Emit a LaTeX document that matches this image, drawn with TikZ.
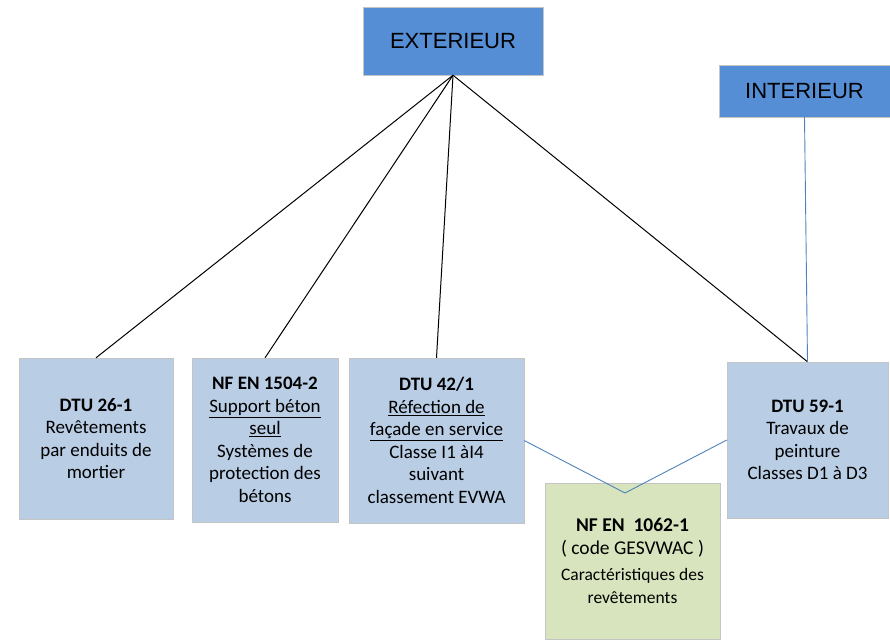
\documentclass[tikz,border=0pt]{standalone}
\usepackage{fontspec}
\setmainfont{Carlito}
\newfontfamily\arialfont{Liberation Sans}
\usetikzlibrary{arrows}

\definecolor{darkblue}{HTML}{558ED5}
\definecolor{paleblue}{HTML}{B9CDE5}
\definecolor{palegreen}{HTML}{D7E4BD}
\definecolor{edgegray}{HTML}{C4C4C4}
\definecolor{linkblue}{HTML}{4F81BD}

\begin{document}
\begin{tikzpicture}[x=1pt,y=-1pt,auto,
                    title node/.style={rectangle,draw=edgegray,fill=darkblue,inner sep=0pt,
                      font=\arialfont\fontsize{22}{26}\selectfont},
                    norm node/.style={rectangle,draw=edgegray,fill=paleblue,inner sep=0pt,
                      align=center,font=\fontsize{19}{22.5}\selectfont},
                    code node/.style={norm node,fill=palegreen,font=\fontsize{19.5}{23}\selectfont}]
  \useasboundingbox (0,0) rectangle (890,639);
  \node[title node,minimum width=180pt,minimum height=68pt] (ext) at (453,41) {EXTERIEUR};
  \node[title node,minimum width=171pt,minimum height=52pt] (int) at (804.5,91) {INTERIEUR};
  \node[norm node,minimum width=154pt,minimum height=161pt] (dtu26) at (96,438.5)
    {\textbf{DTU 26-1}\\Revêtements\\par enduits de\\mortier};
  \node[norm node,minimum width=146pt,minimum height=164pt] (nf1504) at (265,440)
    {\textbf{NF EN 1504-2}\\\underline{Support béton}\\\underline{seul}\\Systèmes de\\protection des\\bétons};
  \node[norm node,minimum width=175pt,minimum height=165pt] (dtu42) at (436.5,440.5)
    {\textbf{DTU 42/1}\\\underline{Réfection de}\\\underline{façade en service}\\Classe I1 àI4\\suivant\\classement EVWA};
  \node[norm node,minimum width=161pt,minimum height=156pt] (dtu59) at (807.5,440)
    {\textbf{DTU 59-1}\\Travaux de\\peinture\\Classes D1 à D3};
  \node[code node,minimum width=175pt,minimum height=156pt] (nf1062) at (632.5,561)
    {\textbf{NF EN\ \ 1062-1}\\( code GESVWAC )\\[3pt]{\fontsize{17.5}{22}\selectfont Caractéristiques des}\\{\fontsize{17.5}{22}\selectfont revêtements}};
  \coordinate (joint) at (625,493);
  \path[draw=black,line width=1pt]
    (ext.south) edge (dtu26.north)
    (ext.south) edge (nf1504.north)
    (ext.south) edge (dtu42.north)
    (ext.south) edge (dtu59.north)
    ;
  \path[draw=linkblue,line width=0.9pt]
    (int.south) edge (dtu59.north)
    (dtu42.east) edge (joint)
    (dtu59.west) edge (joint)
    ;
\end{tikzpicture}
\end{document}
